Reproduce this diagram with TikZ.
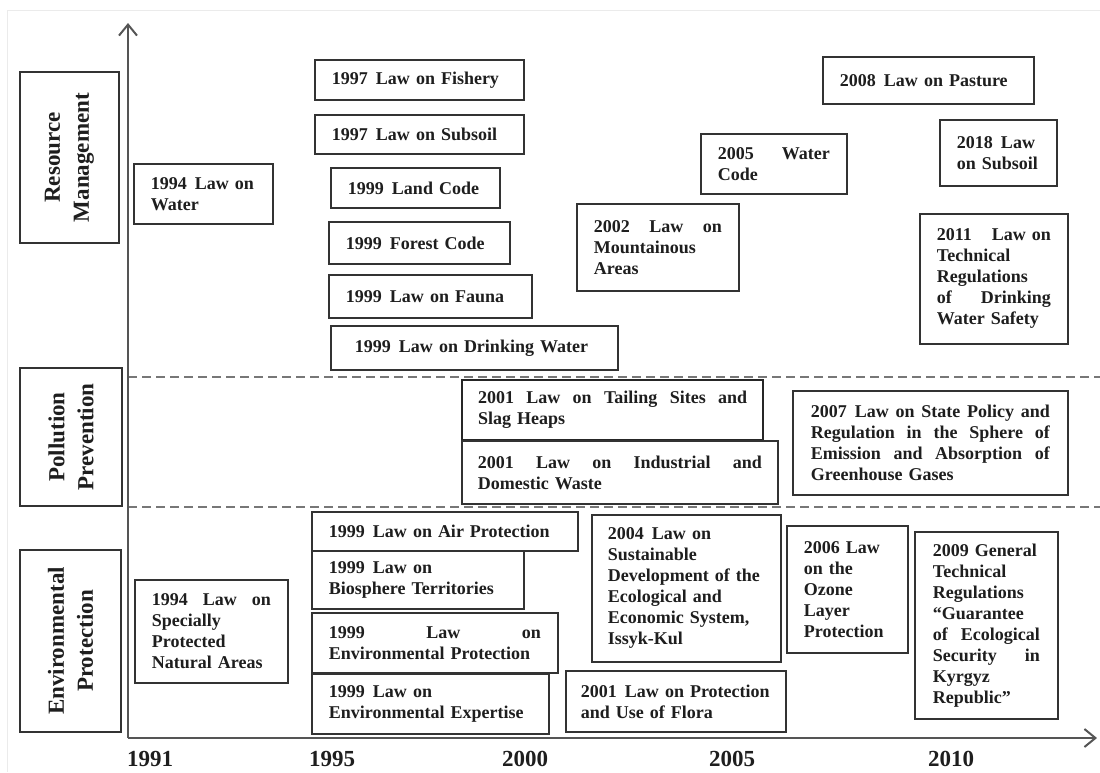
\documentclass[tikz,border=0pt]{standalone}
\usepackage{fontspec}
\setmainfont{Liberation Serif}
\usetikzlibrary{arrows.meta}
\definecolor{boxc}{HTML}{333333}
\definecolor{txt}{HTML}{1E1E1E}
\definecolor{axisc}{HTML}{555555}
\definecolor{dashc}{HTML}{777777}
\newcommand\ys{\hspace{0.45em}}
\hyphenpenalty=10000
\exhyphenpenalty=10000
\tikzset{
  law/.style={draw=boxc, line width=1.8pt, align=left, inner xsep=17pt, inner ysep=0pt,
    anchor=north west, text=txt, font=\fontsize{18}{21}\selectfont\bfseries},
  cat/.style={draw=boxc, line width=1.8pt, align=center, inner sep=0pt, rotate=90,
    text=txt, font=\fontsize{23}{29}\selectfont\bfseries},
  year/.style={text=txt, inner sep=0pt, font=\fontsize{23}{27}\selectfont\bfseries},
  axisline/.style={draw=axisc, line width=2pt, -{Straight Barb[length=11pt,width=18pt]}},
  sepline/.style={draw=dashc, line width=2pt, dash pattern=on 9pt off 5pt},
}
\begin{document}
\begin{tikzpicture}[x=1pt,y=-1pt]
\useasboundingbox (0,0) rectangle (1100,772);
\fill[white] (0,0) rectangle (1100,772);
\draw[black!8, line width=1pt] (7,772) -- (7,10) -- (1100,10);

% axes
\coordinate (origin) at (128,738);
\coordinate (ytop) at (128,23);
\coordinate (xend) at (1097,738);
\coordinate (s1a) at (128,377);
\coordinate (s1b) at (1100,377);
\coordinate (s2a) at (128,507);
\coordinate (s2b) at (1100,507);
\draw[sepline] (s1a) -- (s1b);
\draw[sepline] (s2a) -- (s2b);
\draw[axisline] (origin) -- (ytop);
\draw[axisline] (origin) -- (xend);

% years
\node[year] (y1991) at (150,759) {1991};
\node[year] (y1995) at (332,759) {1995};
\node[year] (y2000) at (525,759) {2000};
\node[year] (y2005) at (732,759) {2005};
\node[year] (y2010) at (951,759) {2010};

% categories
\node[cat, minimum width=171pt, minimum height=99pt] (rm) at (69.5,157.5) {Resource\\Management};
\node[cat, minimum width=138pt, minimum height=102pt] (pp) at (71,437) {Pollution\\Prevention};
\node[cat, minimum width=182pt, minimum height=101pt] (ep) at (70.5,641) {Environmental\\Protection};

% resource management
\node[law, text width=105pt, minimum height=60pt] (w94) at (133,163) {1994\ys Law on\\Water};
\node[law, text width=175pt, minimum height=40pt] (fish) at (314,59) {1997\ys Law on Fishery};
\node[law, text width=175pt, minimum height=39pt] (sub97) at (314,114) {1997\ys Law on Subsoil};
\node[law, text width=135pt, minimum height=40pt] (land) at (330,167) {1999\ys Land Code};
\node[law, text width=147pt, minimum height=42pt] (forest) at (328,221) {1999\ys Forest Code};
\node[law, text width=169pt, minimum height=43pt] (fauna) at (328,274) {1999\ys Law on Fauna};
\node[law, inner xsep=24pt, text width=239pt, minimum height=44pt] (drink) at (330,325) {1999\ys Law on Drinking Water};
\node[law, text width=128pt, minimum height=87pt] (mount) at (576,203) {2002\hfill Law\hfill on\\Mountainous\\Areas};
\node[law, text width=112pt, minimum height=60pt] (wcode) at (700,133) {2005\hfill Water\\Code};
\node[law, text width=177pt, minimum height=47pt] (pasture) at (822,56) {2008\ys Law on Pasture};
\node[law, text width=83pt, minimum height=66pt] (sub18) at (939,119) {2018\ys Law\\on Subsoil};
\node[law, text width=114pt, minimum height=130pt] (tech) at (919,213) {2011\hfill Law on\\Technical\\Regulations\\of\hfill Drinking\\Water Safety};

% pollution prevention
\node[law, inner xsep=16pt, text width=269pt, minimum height=60pt, line width=2.2pt, draw=black!85] (tail) at (461,379) {2001\hfill Law\hfill on\hfill Tailing\hfill Sites\hfill and\\Slag Heaps};
\node[law, inner xsep=16pt, text width=284pt, minimum height=63pt] (indus) at (461,440) {2001\hfill Law\hfill on\hfill Industrial\hfill and\\Domestic Waste};
\node[law, inner xsep=18pt, text width=239pt, minimum height=104pt] (ghg) at (792,390) {2007\ys Law\hfill on\hfill State\hfill Policy\hfill and\\Regulation\hfill in\hfill the\hfill Sphere\hfill of\\Emission\hfill and\hfill Absorption\hfill of\\Greenhouse Gases};

% environmental protection
\node[law, text width=119pt, minimum height=103pt] (spna) at (134,579) {1994\hfill Law\hfill on\\Specially\\Protected\\Natural Areas};
\node[law, text width=232pt, minimum height=39pt] (air) at (311,511) {1999\ys Law on Air Protection};
\node[law, text width=178pt, minimum height=58pt] (bio) at (311,550) {1999\ys Law on\\Biosphere Territories};
\node[law, text width=212pt, minimum height=60pt] (envp) at (311,612) {1999\hfill Law\hfill on\\Environmental Protection};
\node[law, text width=203pt, minimum height=60pt] (enve) at (311,673) {1999\ys Law on\\Environmental Expertise};
\node[law, inner xsep=16pt, text width=157pt, minimum height=147pt] (issyk) at (591,514) {2004\ys Law on\\Sustainable\\Development of the\\Ecological and\\Economic System,\\Issyk-Kul};
\node[law, inner xsep=15pt, text width=190pt, minimum height=61pt] (flora) at (565,670) {2001\ys Law on Protection\\and Use of Flora};
\node[law, text width=87pt, minimum height=127pt] (ozone) at (786,525) {2006 Law\\on the\\Ozone\\Layer\\Protection};
\node[law, inner xsep=18pt, text width=107pt, minimum height=187pt] (guar) at (914,531) {2009 General\\Technical\\Regulations\\“Guarantee\\of\hfill Ecological\\Security\hfill in\\Kyrgyz\\Republic”};
\end{tikzpicture}
\end{document}
